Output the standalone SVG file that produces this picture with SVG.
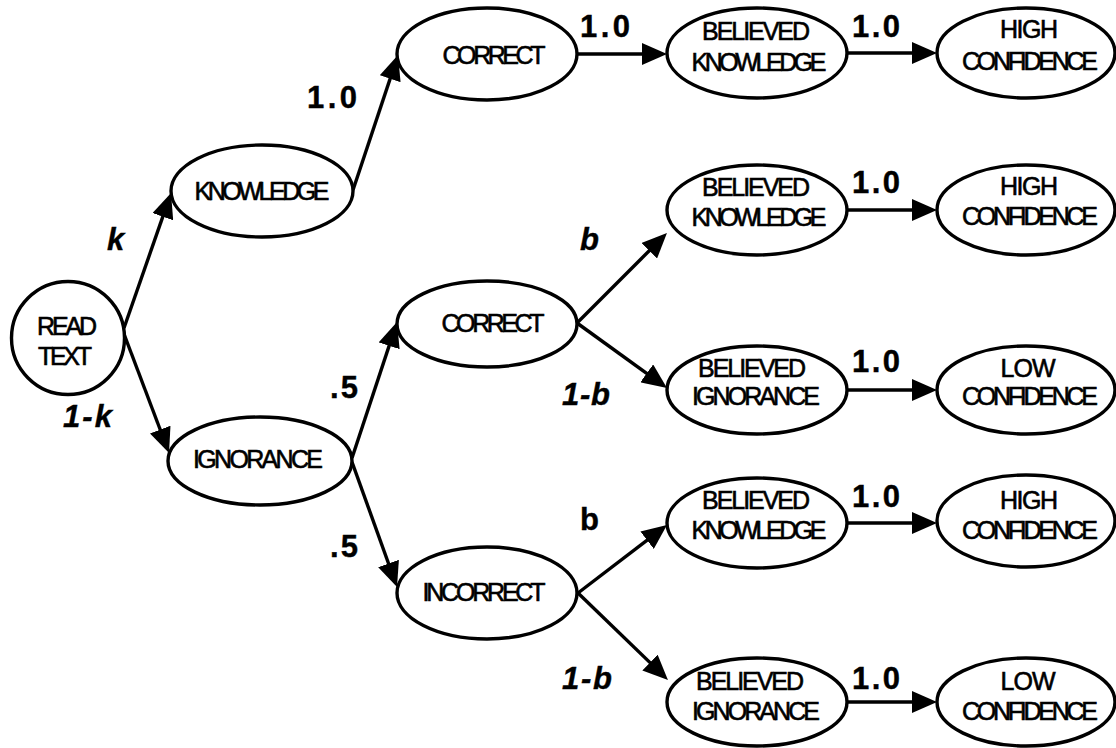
<svg xmlns="http://www.w3.org/2000/svg" width="1116" height="748" viewBox="0 0 1116 748">
<style>
  .node { fill: #fff; stroke: #000; stroke-width: 3.4; }
  .nt { font-family: "Liberation Sans", Arial, sans-serif; font-size: 25px; fill: #000; stroke: #000; stroke-width: 0.6; text-anchor: middle; }
  .lb { font-family: "Liberation Sans", Arial, sans-serif; font-size: 31px; font-weight: bold; fill: #000; stroke: #000; stroke-width: 0.4; }
  .it { font-style: italic; }
  .edge { stroke: #000; stroke-width: 3.4; fill: none; marker-end: url(#arr); }
</style>
<defs>
  <marker id="arr" markerUnits="userSpaceOnUse" markerWidth="25" markerHeight="22" viewBox="0 0 25 22" refX="17" refY="11" orient="auto">
    <path d="M0,0 L25,11 L0,22 z" fill="#000"/>
  </marker>
</defs>
<rect width="1116" height="748" fill="#fff"/>

<g id="connectors">
  <line class="edge" x1="124" y1="328" x2="168.4" y2="200.6"/>
  <line class="edge" x1="124" y1="334" x2="166.2" y2="445.5"/>
  <line class="edge" x1="353" y1="190" x2="395.5" y2="62.6"/>
  <line class="edge" x1="352" y1="458" x2="394.5" y2="329.6"/>
  <line class="edge" x1="352" y1="462" x2="394.3" y2="579.5"/>
  <line class="edge" x1="577" y1="54" x2="659" y2="54"/>
  <line class="edge" x1="577" y1="323" x2="661.3" y2="238.7"/>
  <line class="edge" x1="577" y1="323" x2="660.5" y2="383.3"/>
  <line class="edge" x1="578" y1="593" x2="660.6" y2="529.9"/>
  <line class="edge" x1="578" y1="593" x2="662.2" y2="674.4"/>
  <line class="edge" x1="848" y1="53" x2="929" y2="53"/>
  <line class="edge" x1="848" y1="210" x2="929" y2="210"/>
  <line class="edge" x1="848" y1="390" x2="929" y2="390"/>
  <line class="edge" x1="848" y1="523" x2="929" y2="523"/>
  <line class="edge" x1="848" y1="702" x2="929" y2="702"/>
</g>

<g id="edge-labels">
  <text class="lb it" x="107" y="250">k</text>
  <text class="lb it" x="63" y="427" textLength="49">1-k</text>
  <text class="lb" x="307" y="108" textLength="50">1.0</text>
  <text class="lb" x="330" y="398" textLength="28">.5</text>
  <text class="lb" x="330" y="557" textLength="28">.5</text>
  <text class="lb" x="580" y="37" textLength="50">1.0</text>
  <text class="lb it" x="580" y="250">b</text>
  <text class="lb it" x="562" y="405" textLength="48">1-b</text>
  <text class="lb" x="580" y="530">b</text>
  <text class="lb it" x="562" y="689" textLength="50">1-b</text>
  <text class="lb" x="852" y="37" textLength="48">1.0</text>
  <text class="lb" x="852" y="193" textLength="48">1.0</text>
  <text class="lb" x="852" y="372" textLength="48">1.0</text>
  <text class="lb" x="852" y="507" textLength="48">1.0</text>
  <text class="lb" x="852" y="689" textLength="48">1.0</text>
</g>

<g id="read-text">
  <ellipse class="node" cx="68" cy="338" rx="56.5" ry="56.5"/>
  <text class="nt" x="67" y="335" textLength="60">READ</text>
  <text class="nt" x="65" y="365" textLength="54">TEXT</text>
</g>
<g id="knowledge">
  <ellipse class="node" cx="262" cy="191" rx="91" ry="46"/>
  <text class="nt" x="262" y="200" textLength="135">KNOWLEDGE</text>
</g>
<g id="ignorance">
  <ellipse class="node" cx="260" cy="461" rx="92" ry="44"/>
  <text class="nt" x="258" y="468" textLength="130">IGNORANCE</text>
</g>
<g id="correct-1">
  <ellipse class="node" cx="487" cy="54" rx="90" ry="46"/>
  <text class="nt" x="494" y="64" textLength="103">CORRECT</text>
</g>
<g id="correct-2">
  <ellipse class="node" cx="487" cy="324" rx="90" ry="43"/>
  <text class="nt" x="493" y="332" textLength="103">CORRECT</text>
</g>
<g id="incorrect">
  <ellipse class="node" cx="487" cy="593" rx="90" ry="46"/>
  <text class="nt" x="484" y="601" textLength="123">INCORRECT</text>
</g>

<g id="believed-knowledge-1">
  <ellipse class="node" cx="757" cy="53" rx="90" ry="45"/>
  <text class="nt" x="756" y="40" textLength="108">BELIEVED</text>
  <text class="nt" x="759" y="71" textLength="135">KNOWLEDGE</text>
</g>
<g id="high-confidence-1">
  <ellipse class="node" cx="1026" cy="53" rx="89" ry="45"/>
  <text class="nt" x="1029" y="38" textLength="58">HIGH</text>
  <text class="nt" x="1030" y="70" textLength="136">CONFIDENCE</text>
</g>

<g id="believed-knowledge-2">
  <ellipse class="node" cx="757" cy="210" rx="90" ry="45"/>
  <text class="nt" x="756" y="196" textLength="108">BELIEVED</text>
  <text class="nt" x="759" y="226" textLength="135">KNOWLEDGE</text>
</g>
<g id="high-confidence-2">
  <ellipse class="node" cx="1026" cy="210" rx="89" ry="45"/>
  <text class="nt" x="1029" y="195" textLength="58">HIGH</text>
  <text class="nt" x="1030" y="225" textLength="136">CONFIDENCE</text>
</g>

<g id="believed-ignorance-1">
  <ellipse class="node" cx="757" cy="390" rx="90" ry="44"/>
  <text class="nt" x="752" y="377" textLength="108">BELIEVED</text>
  <text class="nt" x="756" y="405" textLength="128">IGNORANCE</text>
</g>
<g id="low-confidence-1">
  <ellipse class="node" cx="1026" cy="390" rx="89" ry="44"/>
  <text class="nt" x="1028" y="377" textLength="55">LOW</text>
  <text class="nt" x="1030" y="405" textLength="136">CONFIDENCE</text>
</g>

<g id="believed-knowledge-3">
  <ellipse class="node" cx="757" cy="523" rx="90" ry="45"/>
  <text class="nt" x="756" y="509" textLength="108">BELIEVED</text>
  <text class="nt" x="759" y="539" textLength="135">KNOWLEDGE</text>
</g>
<g id="high-confidence-3">
  <ellipse class="node" cx="1026" cy="521" rx="89" ry="46"/>
  <text class="nt" x="1029" y="509" textLength="58">HIGH</text>
  <text class="nt" x="1030" y="539" textLength="136">CONFIDENCE</text>
</g>

<g id="believed-ignorance-2">
  <ellipse class="node" cx="757" cy="702" rx="90" ry="44"/>
  <text class="nt" x="750" y="690" textLength="108">BELIEVED</text>
  <text class="nt" x="756" y="720" textLength="128">IGNORANCE</text>
</g>
<g id="low-confidence-2">
  <ellipse class="node" cx="1026" cy="702" rx="89" ry="44"/>
  <text class="nt" x="1028" y="690" textLength="55">LOW</text>
  <text class="nt" x="1030" y="720" textLength="136">CONFIDENCE</text>
</g>
</svg>
